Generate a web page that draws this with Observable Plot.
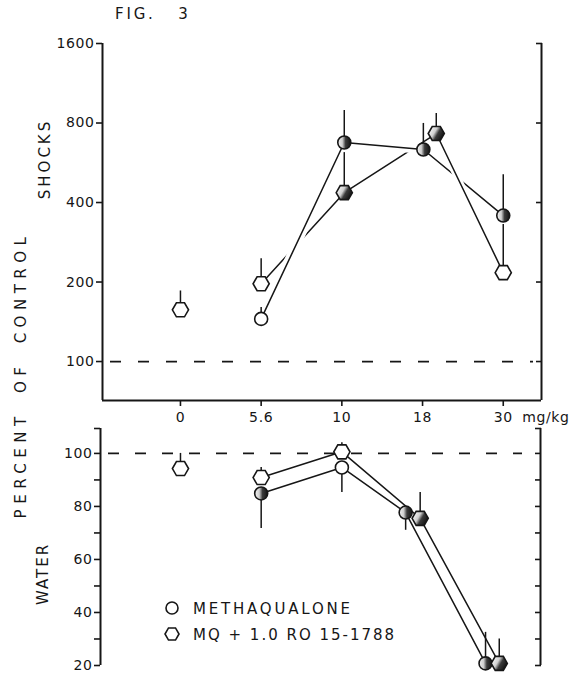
<!DOCTYPE html>
<html><head><meta charset="utf-8">
<script src="https://cdn.jsdelivr.net/npm/d3@7"></script>
<script src="https://cdn.jsdelivr.net/npm/@observablehq/plot@0.6"></script>
<style>
html,body{margin:0;padding:0;background:#fff;}
#wrap{position:relative;width:575px;height:674px;overflow:hidden;background:#fff;}
#wrap svg{position:absolute;left:0;}
</style></head><body><div id="wrap"></div>
<script>
// ---------- data ----------
const figTitle = "FIG.   3";
const doseLabels = ["0", "5.6", "10", "18", "30"];
const unitLabel = "mg/kg";
const seriesNames = ["METHAQUALONE", "MQ + 1.0 RO 15-1788"];
const shockTicks = [100, 200, 400, 800, 1600];
const waterTicks = [20, 40, 60, 80, 100];
const waterMinor = [30, 50, 70, 90];

// SHOCKS (percent of control, log scale); pos = dose slot (jittered as drawn)
const shockCtrlPos = [0], shockCtrlVal = [157], shockCtrlErr = [185];
const shockMqPos = [1.0, 2.03, 3.01, 4.0];
const shockMqVal = [145, 675, 635, 357];
const shockMqErr = [160, 892, 797, 510];
const shockMqHalf = [false, true, true, true];
const shockRoPos = [1.0, 2.03, 3.17, 4.0];
const shockRoVal = [197, 436, 730, 217];
const shockRoErr = [245, 618, 869, 330];
const shockRoHalf = [false, true, true, false];

// WATER (percent of control)
const waterCtrlPos = [0], waterCtrlVal = [94.3], waterCtrlErr = [100];
const waterMqPos = [1.0, 2.0, 2.79, 3.78];
const waterMqVal = [84.9, 94.7, 77.7, 20.8];
const waterMqErr = [71.7, 85.3, 71, 32.5];
const waterMqHalf = [true, false, true, true];
const waterRoPos = [1.0, 2.0, 2.97, 3.95];
const waterRoVal = [90.9, 100.6, 75.5, 20.8];
const waterRoErr = [94.7, 104, 85.3, 30];
const waterRoHalf = [false, false, true, true];

// ---------- helpers ----------
const rows = (pos, val, err, half, sym) => pos.map((p, i) => ({pos: p, val: val[i], err: err[i], half: half ? half[i] : false, sym}));
const INK = "#161616";
const FONT = '"DejaVu Sans", sans-serif';

function dots(data) {
  const out = [];
  for (const sym of ["circle", "hexagon"]) {
    for (const half of [false, true]) {
      const sub = data.filter(d => d.sym === sym && d.half === half);
      if (!sub.length) continue;
      out.push(Plot.dot(sub, {x: "pos", y: "val", symbol: sym, r: sym === "hexagon" ? 7 : 6.5,
        rotate: sym === "hexagon" ? 30 : 0,
        fill: half ? "#010203" : "white", stroke: INK, strokeWidth: 1.6}));
    }
  }
  return out;
}
function addGrad(svg, id) {
  const defs = d3.select(svg).insert("defs", ":first-child");
  const g = defs.append("linearGradient").attr("id", id).attr("x1", 0).attr("x2", 1).attr("y1", 0).attr("y2", 0);
  [[0, "#f2f2f2"], [0.35, "#cfcfcf"], [0.6, "#3a3a3a"], [1, "#151515"]].forEach(([o, c]) =>
    g.append("stop").attr("offset", o).attr("stop-color", c));
  d3.select(svg).selectAll('[fill="#010203"]').attr("fill", `url(#${id})`);
}

const wrap = document.getElementById("wrap");

// ---------- overlay text ----------
const ov = d3.select(wrap).append("svg").attr("width", 575).attr("height", 674).style("top", "0px")
  .style("font-family", FONT).attr("fill", INK);
ov.append("text").attr("x", 115).attr("y", 14).attr("dominant-baseline", "middle")
  .style("font-size", "15px").style("letter-spacing", "2.8px").style("white-space", "pre").text(figTitle);
const vlab = (txt, x, y, ls, ws) => ov.append("text").attr("transform", `translate(${x},${y}) rotate(-90)`)
  .attr("text-anchor", "middle").attr("dominant-baseline", "middle")
  .style("font-size", "15px").style("letter-spacing", ls + "px").style("word-spacing", ws + "px").text(txt);
vlab("SHOCKS", 45, 159, 3, 0);
vlab("PERCENT OF CONTROL", 21, 375, 5.5, 8);
vlab("WATER", 43, 574, 2, 0);
// legend
const lg = ov.append("g");
lg.append("circle").attr("cx", 172).attr("cy", 608).attr("r", 6).attr("fill", "white").attr("stroke", INK).attr("stroke-width", 1.6);
const hx = d3.range(6).map(k => [172 + 7 * Math.cos(k * Math.PI / 3), 634 + 7 * Math.sin(k * Math.PI / 3)].join(",")).join(" ");
lg.append("polygon").attr("points", hx).attr("fill", "white").attr("stroke", INK).attr("stroke-width", 1.6);
seriesNames.forEach((n, i) => lg.append("text").attr("x", 193).attr("y", 609 + 26 * i).attr("dominant-baseline", "middle")
  .style("font-size", "15px").style("letter-spacing", i === 0 ? "2.8px" : "2.0px").text(n));

// ---------- top panel: SHOCKS ----------
const shockMq = rows(shockMqPos, shockMqVal, shockMqErr, shockMqHalf, "circle");
const shockRo = rows(shockRoPos, shockRoVal, shockRoErr, shockRoHalf, "hexagon");
const shockCtrl = rows(shockCtrlPos, shockCtrlVal, shockCtrlErr, null, "hexagon");
const shockAll = [...shockCtrl, ...shockMq, ...shockRo];
const xDomTop = [-0.966, 4.474];
const yDomTop = [71.2, 1600];

const topSvg = Plot.plot({
  width: 575, height: 425, marginLeft: 102, marginRight: 34, marginTop: 43, marginBottom: 25,
  x: {domain: xDomTop, axis: null},
  y: {type: "log", domain: yDomTop, axis: null},
  style: {fontFamily: FONT, fontSize: "14px", background: "transparent", color: INK, overflow: "visible", letterSpacing: "0.6px"},
  marks: [
    Plot.ruleY([100], {strokeDasharray: "11,17", strokeWidth: 1.7, insetLeft: 8, insetRight: 8, stroke: INK}),
    Plot.axisY({ticks: shockTicks, tickFormat: d => String(d), tickSize: 6, tickPadding: 2, strokeWidth: 1.6, label: null}),
    Plot.axisY({anchor: "right", ticks: shockTicks, tickFormat: () => "", tickSize: 6, dx: -6, strokeWidth: 1.6, label: null}),
    Plot.axisX({ticks: d3.range(doseLabels.length), tickFormat: i => doseLabels[i], tickSize: 6, tickPadding: 6, strokeWidth: 1.6, label: null}),
    Plot.text([unitLabel], {x: doseLabels.length - 1, frameAnchor: "bottom", lineAnchor: "top", dy: 12, dx: 19, textAnchor: "start", fill: INK}),
    Plot.ruleX([xDomTop[0]], {strokeWidth: 2, stroke: INK}),
    Plot.ruleX([xDomTop[1]], {strokeWidth: 2, stroke: INK}),
    Plot.ruleY([yDomTop[0]], {strokeWidth: 2, stroke: INK}),
    Plot.line(shockRo, {x: "pos", y: "val", stroke: INK, strokeWidth: 1.5}),
    Plot.line(shockMq, {x: "pos", y: "val", stroke: "white", strokeWidth: 9}),
    Plot.line(shockMq, {x: "pos", y: "val", stroke: INK, strokeWidth: 1.5}),
    Plot.line(shockRo.slice(-2), {x: "pos", y: "val", stroke: "white", strokeWidth: 7}),
    Plot.line(shockRo.slice(-2), {x: "pos", y: "val", stroke: INK, strokeWidth: 1.5}),
    Plot.ruleX(shockAll, {x: "pos", y1: "val", y2: "err", stroke: INK, strokeWidth: 1.5}),
    ...dots(shockAll)
  ]
});
topSvg.style.top = "0px";
addGrad(topSvg, "halfTop");
wrap.appendChild(topSvg);

// ---------- bottom panel: WATER ----------
const waterMq = rows(waterMqPos, waterMqVal, waterMqErr, waterMqHalf, "circle");
const waterRo = rows(waterRoPos, waterRoVal, waterRoErr, waterRoHalf, "hexagon");
const waterCtrl = rows(waterCtrlPos, waterCtrlVal, waterCtrlErr, null, "hexagon");
const waterAll = [...waterCtrl, ...waterMq, ...waterRo];
const xDomBot = [-0.991, 4.461];
const yDomBot = [20, 109.4];

const botSvg = Plot.plot({
  width: 575, height: 254, marginLeft: 100, marginRight: 35, marginTop: 8, marginBottom: 9,
  x: {domain: xDomBot, axis: null},
  y: {domain: yDomBot, axis: null},
  style: {fontFamily: FONT, fontSize: "14px", background: "transparent", color: INK, overflow: "visible", letterSpacing: "0.6px"},
  marks: [
    Plot.ruleY([100], {strokeDasharray: "11,16", strokeWidth: 1.7, insetLeft: 8, insetRight: 18, stroke: INK}),
    Plot.axisY({ticks: waterTicks, tickFormat: d => String(d), tickSize: 6, tickPadding: 2, strokeWidth: 1.6, label: null}),
    Plot.axisY({ticks: [...waterMinor, yDomBot[1]], tickFormat: () => "", tickSize: 6, strokeWidth: 1.6, label: null}),
    Plot.axisY({anchor: "right", ticks: [...waterTicks, ...waterMinor, yDomBot[1]], tickFormat: () => "", tickSize: 6, dx: -6, strokeWidth: 1.6, label: null}),
    Plot.ruleX([xDomBot[0]], {strokeWidth: 2, stroke: INK}),
    Plot.ruleX([xDomBot[1]], {strokeWidth: 2, stroke: INK}),
    Plot.line(waterMq, {x: "pos", y: "val", stroke: INK, strokeWidth: 1.5}),
    Plot.line(waterRo, {x: "pos", y: "val", stroke: INK, strokeWidth: 1.5}),
    Plot.ruleX(waterAll, {x: "pos", y1: "val", y2: "err", stroke: INK, strokeWidth: 1.5}),
    ...dots(waterAll)
  ]
});
botSvg.style.top = "420px";
addGrad(botSvg, "halfBot");
wrap.appendChild(botSvg);
</script></body></html>
